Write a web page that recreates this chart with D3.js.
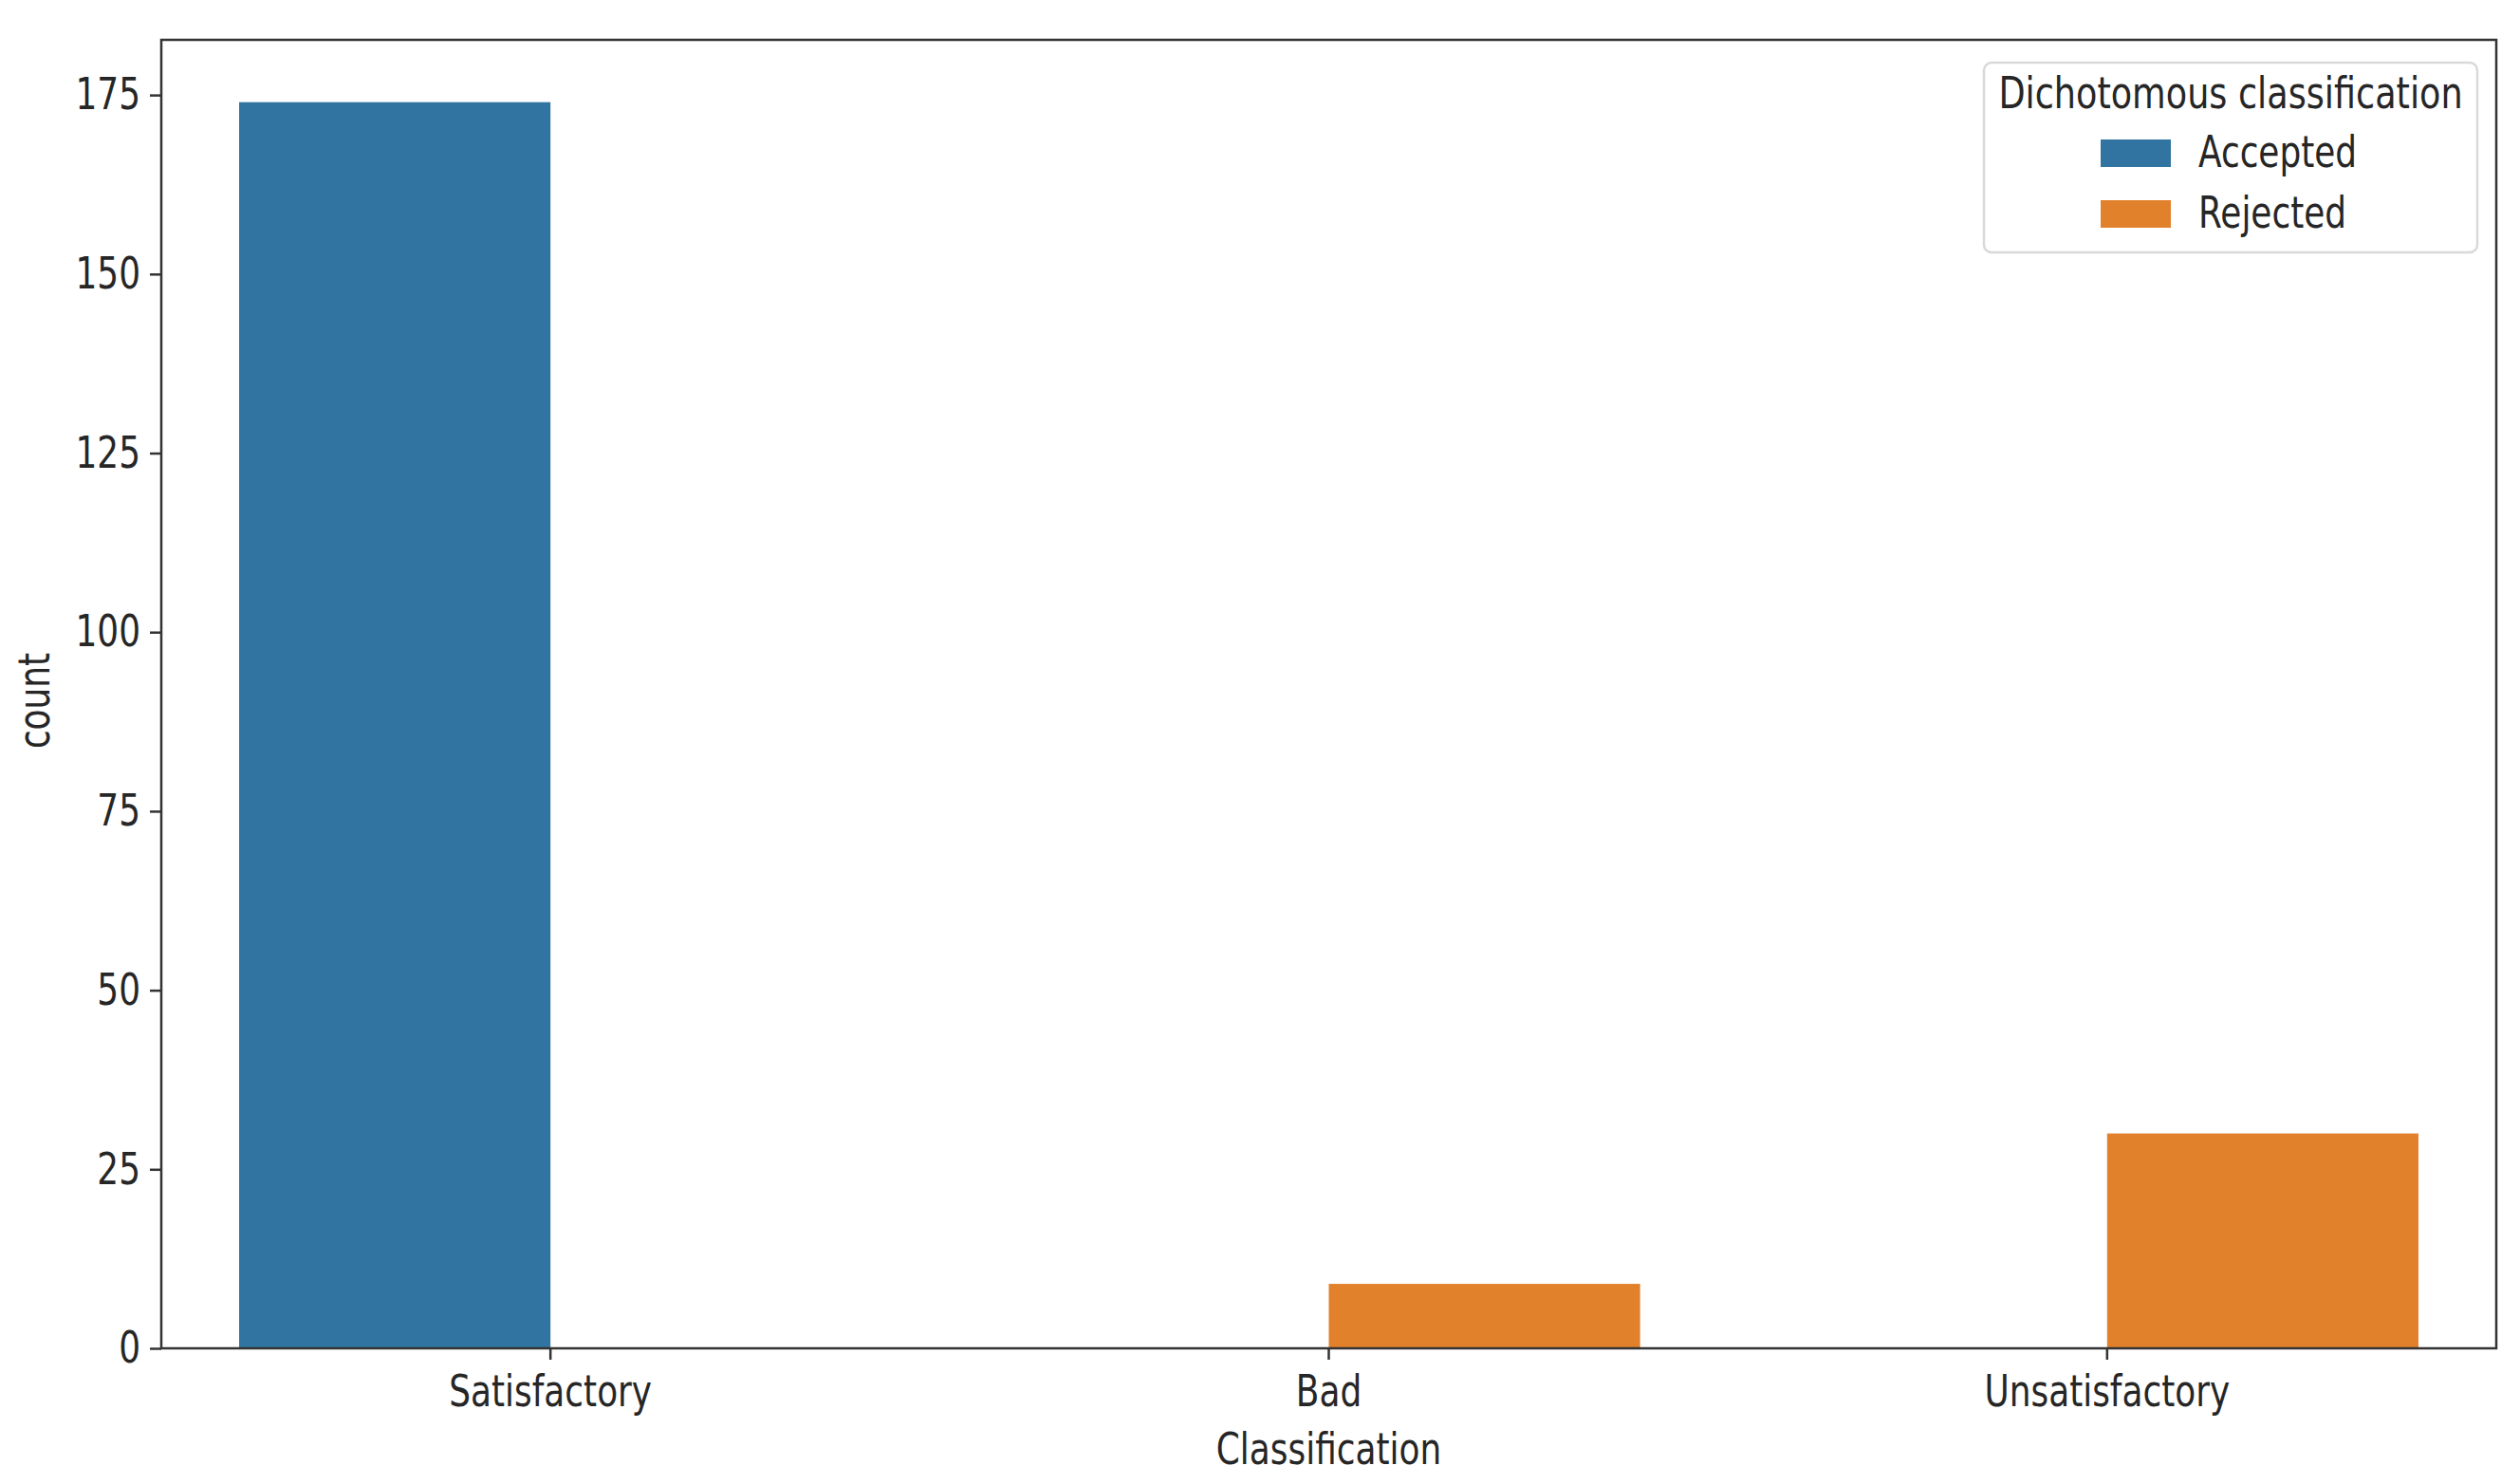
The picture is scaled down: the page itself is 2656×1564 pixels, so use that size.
<!DOCTYPE html>
<html>
<head>
<meta charset="utf-8">
<script src="https://cdn.jsdelivr.net/npm/d3@7"></script>
<style>
  body { margin: 0; background: #fff; }
  text { font-family: "DejaVu Sans", sans-serif; fill: #262626; }
</style>
</head>
<body>
<div id="chart"></div>
<script>
// data
var categories = ["Satisfactory", "Bad", "Unsatisfactory"];
var hues = ["Accepted", "Rejected"];
var accepted = [174, 0, 0];
var rejected = [0, 9, 30];
var yTicks = [0, 25, 50, 75, 100, 125, 150, 175];
var colors = ["#3274a1", "#e1812c"];

var W = 2656, H = 1564;
var mLeft = 170, mRight = 2631, mTop = 42, mBottom = 1421;
var fs = 46, sx = 0.78; // text is squeezed sideways in the reference

var svg = d3.select("#chart").append("svg")
    .attr("width", W).attr("height", H);

var x = d3.scaleBand().domain(categories).range([mLeft, mRight]).padding(0);
var xHue = d3.scaleBand().domain(hues).range([0.1 * x.bandwidth(), 0.9 * x.bandwidth()]);
var y = d3.scaleLinear().domain([0, d3.max(accepted.concat(rejected)) * 1.05]).range([mBottom, mTop]);
var color = d3.scaleOrdinal().domain(hues).range(colors);

// rows for the bars
var rows = [];
categories.forEach(function(c, i) {
    rows.push({ cat: c, hue: "Accepted", v: accepted[i] });
    rows.push({ cat: c, hue: "Rejected", v: rejected[i] });
});

svg.selectAll("rect.bar")
    .data(rows)
    .enter()
    .append("rect")
    .attr("class", "bar")
    .attr("x", function(d) { return x(d.cat) + xHue(d.hue) })
    .attr("y", function(d) { return y(d.v) })
    .attr("width", xHue.bandwidth())
    .attr("height", function(d) { return mBottom - y(d.v) })
    .style("fill", function(d) { return color(d.hue) });

// squeeze a text node horizontally around its own x
function squeeze(sel) {
    sel.each(function() {
        var t = d3.select(this);
        var px = +t.attr("x") || 0;
        t.attr("x", px / sx).attr("transform", "scale(" + sx + ",1)");
    });
}

// axes
var yAxis = svg.append("g")
    .attr("transform", "translate(" + mLeft + ",0)")
    .call(d3.axisLeft(y).tickValues(yTicks).tickSize(12).tickPadding(10));
var xAxis = svg.append("g")
    .attr("transform", "translate(0," + mBottom + ")")
    .call(d3.axisBottom(x).tickSize(12).tickPadding(16));

[yAxis, xAxis].forEach(function(a) {
    a.select(".domain").remove();
    a.selectAll(".tick line").attr("stroke", "#333").attr("stroke-width", 2.5);
    a.selectAll(".tick text").style("font-size", fs + "px").style("fill", "#262626");
    squeeze(a.selectAll(".tick text"));
});

// frame
svg.append("rect")
    .attr("x", mLeft).attr("y", mTop)
    .attr("width", mRight - mLeft).attr("height", mBottom - mTop)
    .style("fill", "none").style("stroke", "#333").style("stroke-width", 2.5);

// axis titles
svg.append("g")
    .attr("transform", "translate(" + ((mLeft + mRight) / 2) + ",1543) scale(" + sx + ",1)")
    .append("text")
    .attr("text-anchor", "middle")
    .style("font-size", fs + "px")
    .text("Classification");

svg.append("g")
    .attr("transform", "translate(52," + ((mTop + mBottom) / 2 + 7) + ") rotate(-90) scale(" + sx + ",1)")
    .append("text")
    .attr("text-anchor", "middle")
    .style("font-size", fs + "px")
    .text("count");

// legend
var lg = svg.append("g").attr("transform", "translate(2091,66)");
lg.append("rect")
    .attr("width", 520).attr("height", 200)
    .attr("rx", 8).attr("ry", 8)
    .style("fill", "#fff").style("fill-opacity", 0.8)
    .style("stroke", "#d9d9d9").style("stroke-width", 2.5);
lg.append("g")
    .attr("transform", "translate(260,48) scale(" + (sx * 1.02) + ",1)")
    .append("text")
    .attr("text-anchor", "middle")
    .style("font-size", fs + "px")
    .text("Dichotomous classification");

var items = lg.selectAll("g.item")
    .data(hues)
    .enter()
    .append("g")
    .attr("class", "item")
    .attr("transform", function(d, i) { return "translate(123," + (81 + i * 64) + ")" });
items.append("rect")
    .attr("width", 74).attr("height", 29)
    .style("fill", function(d) { return color(d) });
items.append("g")
    .attr("transform", "translate(103,29) scale(" + sx + ",1)")
    .append("text")
    .style("font-size", fs + "px")
    .text(function(d) { return d });
</script>
</body>
</html>
